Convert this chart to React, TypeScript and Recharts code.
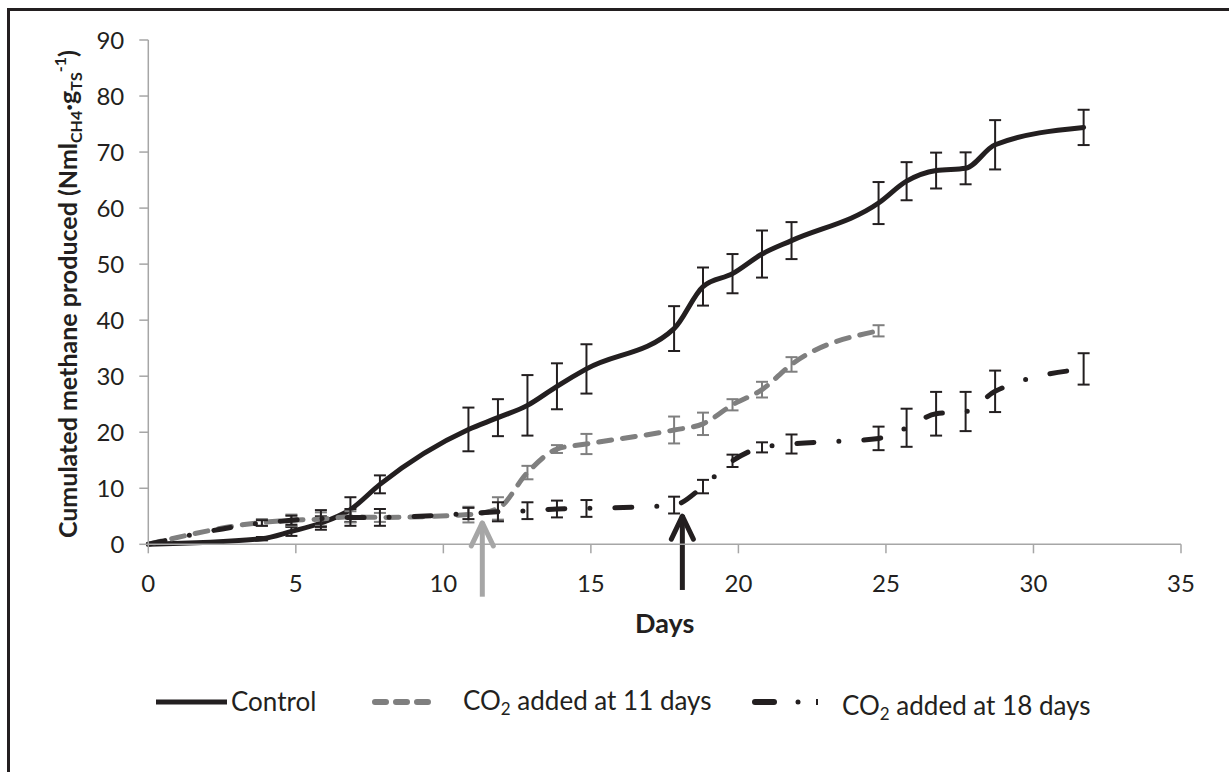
import { LineChart, Line, XAxis, YAxis, ErrorBar, ReferenceLine } from 'recharts'

// sampling days (fractional, as plotted)
const days = [0, 3.85, 4.85, 5.85, 6.85, 7.85, 10.85, 11.85, 12.85, 13.85, 14.85, 17.82, 18.8, 19.8, 20.8, 21.8, 24.75, 25.7, 26.7, 27.7, 28.7, 31.7]

const controlValues = [0, 1.0, 2.3, 3.8, 6.2, 10.7, 20.5, 22.6, 24.8, 28.2, 31.3, 38.5, 46.0, 48.3, 51.8, 54.2, 60.9, 64.8, 66.7, 67.1, 71.3, 74.4]
const controlErrors = [0, 0.3, 0.8, 1.2, 2.2, 1.6, 3.9, 3.3, 5.4, 4.1, 4.4, 4.0, 3.4, 3.5, 4.2, 3.3, 3.75, 3.4, 3.2, 2.85, 4.4, 3.15]

// CO2 added at 11 days, measured up to day 24.75
const co2At11Values = [0, 3.9, 4.3, 4.5, 4.9, 4.8, 5.3, 6.4, 12.8, 17.0, 17.9, 20.4, 21.5, 24.9, 27.6, 32.1, 38.1]
const co2At11Errors = [0, 0.6, 1.0, 1.2, 1.0, 0.8, 1.4, 2.0, 1.2, 0.7, 1.8, 2.4, 2.0, 1.0, 1.4, 1.3, 1.0]

const co2At18Values = [0, 3.8, 4.3, 4.6, 4.8, 4.8, 5.5, 5.8, 6.0, 6.3, 6.4, 7.0, 10.3, 14.9, 17.3, 17.9, 18.9, 20.8, 23.3, 23.7, 27.3, 31.3]
const co2At18Errors = [0, 0.5, 0.8, 1.5, 1.5, 1.5, 1.0, 1.7, 1.5, 1.5, 1.5, 1.5, 1.2, 1.1, 0.9, 1.7, 2.1, 3.4, 3.9, 3.5, 3.7, 2.8]

const xTicks = [0, 5, 10, 15, 20, 25, 30, 35]
const yTicks = [0, 10, 20, 30, 40, 50, 60, 70, 80, 90]

// CO2 injection markers: day, arrow bottom, arrow tip
const injections = [
  { day: 11.32, from: -9.35, to: 4.0, color: '#a6a6a6' },
  { day: 18.1, from: -8.15, to: 5.2, color: '#231f20' },
]

const rows = (vals: number[], errs: number[]) =>
  vals.map((value, i) => ({ day: days[i], value, err: errs[i] }))

const controlData = rows(controlValues, controlErrors)
const co2At11Data = rows(co2At11Values, co2At11Errors)
const co2At18Data = rows(co2At18Values, co2At18Errors)

const FONT = 'Lato, "Open Sans", sans-serif'
const INK = '#231f20'
const AXIS = '#a6a6a6'

function Arrow(props: any) {
  const { x1, y1, x2, y2, stroke } = props
  const x = (x1 + x2) / 2
  const top = Math.min(y1, y2)
  const bottom = Math.max(y1, y2)
  return (
    <g stroke={stroke} strokeWidth={5} strokeLinecap="round" strokeLinejoin="round" fill="none">
      <line x1={x} y1={bottom} x2={x} y2={top} strokeLinecap="butt" />
      <polyline points={`${x - 11},${top + 24} ${x},${top + 1} ${x + 11},${top + 24}`} />
    </g>
  )
}

function YLabel(props: any) {
  const vb = props.viewBox || { y: 40, height: 504 }
  const cy = vb.y + vb.height / 2 + 2
  return (
    <text transform={`translate(77,${cy}) rotate(-90)`} textAnchor="middle" fontFamily={FONT}
      fontSize={25} fontWeight="bold" fill={INK}>
      Cumulated methane produced (Nml
      <tspan fontSize={16} dy={5}>CH4</tspan>
      <tspan dy={-5}>·g</tspan>
      <tspan fontSize={16} dy={5}>TS</tspan>
      <tspan fontSize={16} dy={-16}>-1</tspan>
      <tspan dy={11}>)</tspan>
    </text>
  )
}

function XLabel(props: any) {
  const vb = props.viewBox || { x: 148, width: 1033 }
  return (
    <text x={vb.x + vb.width / 2} y={633} textAnchor="middle" fontFamily={FONT}
      fontSize={27} fontWeight="bold" fill={INK}>Days</text>
  )
}

function Co2Text({ x, y, label }: { x: number; y: number; label: string }) {
  return (
    <text x={x} y={y} fontFamily={FONT} fontSize={26} fill={INK}>
      CO<tspan fontSize={17} dy={5}>2</tspan><tspan dy={-5}>{label}</tspan>
    </text>
  )
}

function ChartLegend() {
  return (
    <svg width={1229} height={772} style={{ position: 'absolute', left: 0, top: 0, pointerEvents: 'none' }}>
      <line x1={156} y1={702} x2={227} y2={702} stroke={INK} strokeWidth={5} />
      <text x={231} y={711} fontFamily={FONT} fontSize={26} fill={INK}>Control</text>
      <line x1={375} y1={702} x2={429} y2={702} stroke="#7f7f7f" strokeWidth={6}
        strokeDasharray="11 10" strokeLinecap="round" />
      <Co2Text x={463} y={710} label=" added at 11 days" />
      <line x1={755} y1={702} x2={774} y2={702} stroke={INK} strokeWidth={6} strokeLinecap="round" />
      <circle cx={798} cy={702} r={2.5} fill={INK} />
      <rect x={816} y={699} width={2} height={6} fill={INK} />
      <Co2Text x={842} y={715} label=" added at 18 days" />
    </svg>
  )
}

export default function App() {
  return (
    <div style={{ position: 'absolute', left: 0, top: 0, width: 1229, height: 772, overflow: 'hidden', background: '#fff' }}>
      <div style={{ position: 'absolute', left: 7, top: 8, width: 1240, height: 800, borderLeft: `3px solid ${INK}`, borderTop: `3px solid ${INK}` }} />
      <div style={{ position: 'absolute', left: 0, top: 0 }}>
        <LineChart width={1229} height={772} margin={{ top: 40, right: 48, bottom: 197.7, left: 88.3 }}>
          <XAxis
            type="number"
            dataKey="day"
            domain={[0, 35]}
            ticks={xTicks}
            interval={0}
            allowDuplicatedCategory={false}
            stroke={AXIS}
            strokeWidth={1.5}
            tickSize={9}
            tickMargin={22}
            tick={{ fontSize: 24, fill: INK, fontFamily: FONT }}
            label={<XLabel />}
          />
          <YAxis
            type="number"
            domain={[0, 90]}
            ticks={yTicks}
            interval={0}
            width={60}
            stroke={AXIS}
            strokeWidth={1.5}
            tickSize={9}
            tickMargin={15}
            tick={{ fontSize: 24, fill: INK, fontFamily: FONT }}
            label={<YLabel />}
          />
          <Line data={controlData} dataKey="value" type="monotone" stroke={INK} strokeWidth={5}
            dot={false} activeDot={false} isAnimationActive={false} strokeLinecap="round">
            <ErrorBar dataKey="err" direction="y" width={6} stroke={INK} strokeWidth={2} />
          </Line>
          <Line data={co2At11Data} dataKey="value" type="monotone" stroke="#7f7f7f" strokeWidth={5}
            strokeDasharray="13 11" strokeLinecap="round"
            dot={false} activeDot={false} isAnimationActive={false}>
            <ErrorBar dataKey="err" direction="y" width={6} stroke="#7f7f7f" strokeWidth={2} />
          </Line>
          <Line data={co2At18Data} dataKey="value" type="monotone" stroke={INK} strokeWidth={5}
            strokeDasharray="17 25 0 25" strokeLinecap="round"
            dot={false} activeDot={false} isAnimationActive={false}>
            <ErrorBar dataKey="err" direction="y" width={6} stroke={INK} strokeWidth={2} />
          </Line>
          {injections.map((a) => (
            <ReferenceLine
              key={a.day}
              segment={[{ x: a.day, y: a.from }, { x: a.day, y: a.to }]}
              stroke={a.color}
              ifOverflow="visible"
              shape={(p: any) => <Arrow {...p} stroke={a.color} />}
            />
          ))}
        </LineChart>
      </div>
      <ChartLegend />
    </div>
  )
}
